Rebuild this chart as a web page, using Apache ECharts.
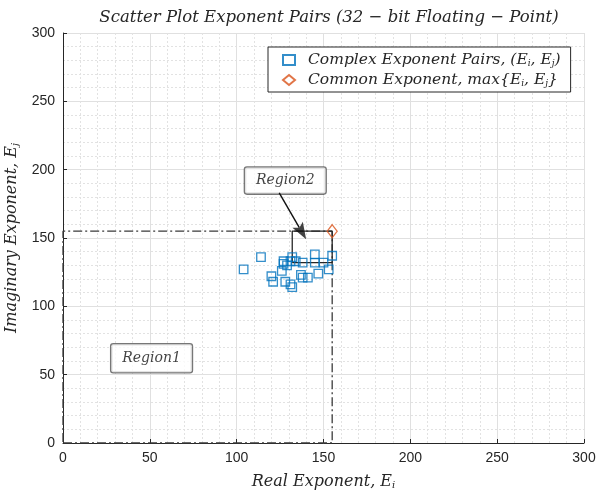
<!DOCTYPE html>
<html><head><meta charset="utf-8">
<script src="https://cdn.jsdelivr.net/npm/echarts@6/dist/echarts.min.js"></script>
<style>html,body{margin:0;padding:0;background:#fff}#c{width:597px;height:491px}</style>
</head><body><div id="c"></div>
<script>
// ---- data ----
const realExp = [104,114,120,121,126,127,127,128,129,131,132,131,132,134,138,137,138,141,145,145,147,150,153,155];
const imagExp = [127,136,122,118,126,133,131,118,130,133,136,116,114,133,132,123,121,121,138,132,124,132,127,137];
const commonExp = [[155,155]];
const region1Path = [[0,0],[155,0],[155,155],[0,155],[0,0]];
const region2Path = [[132,132],[155,132],[155,155],[132,155],[132,132]];
const region1Label = [[51,62]];
const region2Label = [[128,192]];
const arrowFrom = [124.5,183];
const arrowTo = [140,149];
const axisTicks = [0,50,100,150,200,250,300];

const serif = 'DejaVu Serif';
const sans = 'Liberation Sans';
const pairs = realExp.map((x,i)=>[x, imagExp[i]]);

const chart = echarts.init(document.getElementById('c'), null, {renderer:'canvas'});
const axisCommon = {
  min: axisTicks[0], max: axisTicks[axisTicks.length-1], interval: axisTicks[1]-axisTicks[0],
  axisLine:{show:true, lineStyle:{color:'#262626', width:1}},
  axisTick:{show:true, inside:true, length:4, lineStyle:{color:'#262626'}},
  minorTick:{show:false, splitNumber:5},
  axisLabel:{color:'#262626', fontFamily:sans, fontSize:14},
  splitLine:{show:true, lineStyle:{color:'#e0e0e0', width:1}},
  minorSplitLine:{show:true, lineStyle:{color:'#e2e2e2', type:[2,2], width:1}},
  nameTextStyle:{fontFamily:serif, fontStyle:'italic', fontSize:16, color:'#262626',
    rich:{sub:{fontFamily:serif, fontStyle:'italic', fontSize:10, color:'#262626', padding:[7,0,0,0]}}}
};
const dashDot = [9,3,2,3];
const labelBox = {show:true, position:'inside', fontFamily:serif, fontStyle:'italic', fontSize:14,
  color:'#111', backgroundColor:'#fff', borderColor:'#555', borderWidth:1.3, borderRadius:2};
const baseSeries = [
  {name:'region1', type:'line', data:region1Path, symbol:'none', silent:true, z:3,
    lineStyle:{color:'#3a3a3a', width:1.3, type:dashDot}},
  {name:'region2', type:'line', data:region2Path, symbol:'none', silent:true, z:3,
    lineStyle:{color:'#262626', width:1.3}},
  {name:'pairs', type:'scatter', data:pairs, symbol:'rect', symbolSize:8.5, z:5,
    itemStyle:{color:'rgba(0,0,0,0)', borderColor:'#0072BD', borderWidth:1.3}},
  {name:'common', type:'scatter', data:commonExp, symbol:'diamond', symbolSize:[10,13], z:5,
    itemStyle:{color:'rgba(0,0,0,0)', borderColor:'#D95319', borderWidth:1.3}},
  {name:'lab1', type:'scatter', data:region1Label, symbolSize:0, silent:true, z:6,
    label:Object.assign({formatter:'Region1', padding:[7,11,7,11]}, labelBox)},
  {name:'lab2', type:'scatter', data:region2Label, symbolSize:0, silent:true, z:6,
    label:Object.assign({formatter:'Region2', padding:[6,11,6,11]}, labelBox)}
];
chart.setOption({
  animation:false,
  title:{text:'Scatter Plot Exponent Pairs (32 \u2212 bit Floating \u2212 Point)', left:324, top:4, textAlign:'center',
    textStyle:{fontFamily:serif, fontStyle:'italic', fontWeight:'normal', fontSize:16.5, color:'#262626'}},
  grid:{left:63, right:13, top:33, bottom:48, containLabel:false, outerBoundsMode:'none'},
  legend:{
    orient:'vertical', left:268, top:47, itemGap:4, itemWidth:12, itemHeight:10,
    padding:[5,10,4,14], borderColor:'#262626', borderWidth:1, backgroundColor:'#fff',
    data:['pairs','common'],
    formatter:function(n){
      return n==='pairs' ? 'Complex Exponent Pairs, (E{sub|i}, E{sub|j})'
                         : 'Common Exponent, max{E{sub|i}, E{sub|j}}';
    },
    textStyle:{fontFamily:serif, fontStyle:'italic', fontSize:15.5, color:'#262626', padding:[0,0,0,8],
      rich:{sub:{fontFamily:serif, fontStyle:'italic', fontSize:9, color:'#262626', padding:[7,0,0,0]}}}
  },
  xAxis:Object.assign({type:'value', name:'Real Exponent, E{sub|i}', nameLocation:'middle', nameGap:30}, axisCommon),
  yAxis:Object.assign({type:'value', name:'Imaginary Exponent, E{sub|j}', nameLocation:'middle', nameGap:37}, axisCommon),
  series:baseSeries
});
// arrow: line + filled triangle head aligned with the line direction
const p0 = chart.convertToPixel({seriesIndex:0}, arrowFrom);
const p1 = chart.convertToPixel({seriesIndex:0}, arrowTo);
const dx = p1[0]-p0[0], dy = p1[1]-p0[1];
const len = Math.sqrt(dx*dx+dy*dy);
const ux = dx/len, uy = dy/len;
const headLen = 17, headW = 12;
const base = [p1[0]-ux*headLen*0.8, p1[1]-uy*headLen*0.8];
const mid = [p1[0]-ux*headLen/2, p1[1]-uy*headLen/2];
const rot = Math.atan2(dx, dy)*180/Math.PI;
chart.setOption({series: baseSeries.concat([
  {name:'arrowLine', type:'line', data:[arrowFrom, chart.convertFromPixel({seriesIndex:0}, base)],
    symbol:'none', silent:true, z:7, lineStyle:{color:'#111', width:1.4}},
  {name:'arrowHead', type:'scatter', data:[chart.convertFromPixel({seriesIndex:0}, mid)], silent:true, z:7,
    symbol:'path://M0,0 L5,3 L10,0 L5,14 Z', symbolSize:[headW, headLen], symbolRotate:rot,
    itemStyle:{color:'#111'}}
])});
</script></body></html>
